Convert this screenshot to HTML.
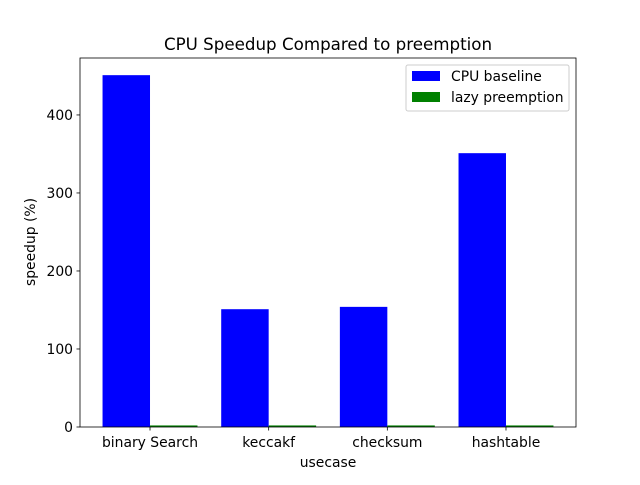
<!DOCTYPE html>
<html><head><meta charset="utf-8"><style>
body{margin:0;background:#fff;font-family:"Liberation Sans","DejaVu Sans",sans-serif;}
svg text{font-family:"DejaVu Sans","Liberation Sans",sans-serif;}
</style></head><body>
<svg id="chart" width="640" height="480" viewBox="0 0 640 480" xmlns="http://www.w3.org/2000/svg">
<rect width="640" height="480" fill="#fff"/>
<text x="328" y="50" font-size="16.7" text-anchor="middle">CPU Speedup Compared to preemption</text>
<g id="bars"></g>
<g id="ticks"></g>
<rect x="80" y="58" width="496" height="369" fill="none" stroke="#000" stroke-width="0.8"/>
<text x="328" y="467" font-size="13.9" text-anchor="middle">usecase</text>
<text transform="translate(35,242) rotate(-90)" font-size="13.9" text-anchor="middle">speedup (%)</text>
<g>
<rect x="406" y="65" width="163" height="46" fill="#fff" stroke="#ccc" rx="2"/>
<rect x="412" y="71" width="28" height="10" fill="#0000ff"/>
<text x="451" y="81" font-size="13.9">CPU baseline</text>
<rect x="412" y="92" width="28" height="10" fill="#008000"/>
<text x="451" y="102" font-size="13.9">lazy preemption</text>
</g>
</svg>
<script>
const categories = ["binary Search","keccakf","checksum","hashtable"];
const cpuBaseline = [451, 151, 154, 351];
const lazyPreemption = [2, 2, 2, 2];
const yTicks = [0, 100, 200, 300, 400];

const X0=80, X1=576, Y0=427, Y1=58;
const xMin=-0.59, xMax=3.59, yMin=0, yMax=473;
const xs = v => X0 + (v - xMin) / (xMax - xMin) * (X1 - X0);
const ys = v => Y0 - (v - yMin) / (yMax - yMin) * (Y0 - Y1);
const NS="http://www.w3.org/2000/svg";
const bars=document.getElementById('bars'), ticks=document.getElementById('ticks');
const W=0.4;
function mk(tag, attrs, parent){const e=document.createElementNS(NS,tag);for(const k in attrs)e.setAttribute(k,attrs[k]);parent.appendChild(e);return e;}
categories.forEach((c,i)=>{
  const b=mk('rect',{x:xs(i-W),y:ys(cpuBaseline[i]),width:xs(i)-xs(i-W),height:ys(0)-ys(cpuBaseline[i]),fill:'#0000ff'},bars);
  
  
  const g=mk('rect',{x:xs(i),y:ys(lazyPreemption[i]),width:xs(i+W)-xs(i),height:ys(0)-ys(lazyPreemption[i]),fill:'#008000'},bars);
  
  
  const t=mk('line',{x1:xs(i),x2:xs(i),y1:Y0,y2:Y0+3.5,stroke:'#000','stroke-width':0.8},ticks);
  
  
  const l=mk('text',{x:xs(i),y:Y0+20,'font-size':13.9,'text-anchor':'middle'},ticks);
  l.textContent=c;
  
  
});
yTicks.forEach(v=>{
  const t=mk('line',{x1:X0-3.5,x2:X0,y1:ys(v),y2:ys(v),stroke:'#000','stroke-width':0.8},ticks);
  
  
  const l=mk('text',{x:X0-7,y:ys(v)+5,'font-size':13.9,'text-anchor':'end'},ticks);
  l.textContent=v;
  
  
});
</script>
</body></html>
